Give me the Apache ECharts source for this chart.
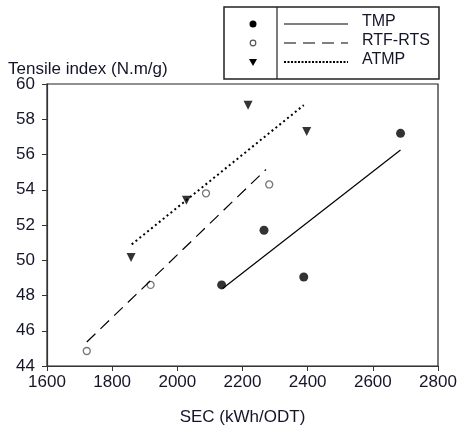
<!DOCTYPE html>
<html>
<head>
<meta charset="UTF-8">
<title>Tensile index vs SEC</title>
<script src="https://cdn.jsdelivr.net/npm/echarts@6/dist/echarts.min.js"></script>
<style>
  html, body { margin: 0; padding: 0; background: #fff; }
  #chart { width: 463px; height: 436px; }
</style>
</head>
<body>
<div id="chart"></div>
<script>
// measured points
const tmpPoints = [[2136, 48.6], [2266, 51.7], [2388, 49.05], [2685, 57.2]];
const rtfPoints = [[1722, 44.85], [1918, 48.6], [2088, 53.8], [2282, 54.3]];
const atmpPoints = [[1858, 50.15], [2028, 53.4], [2217, 58.8], [2397, 57.3]];

// fitted lines (end points)
const tmpLine = [[2139, 48.4], [2685, 56.25]];
const rtfLine = [[1722, 45.36], [2272, 55.15]];
const atmpLine = [[1860, 50.9], [2388, 58.8]];

const legendNames = ['TMP', 'RTF-RTS', 'ATMP'];
const ink = '#15152a';
const font = 'Liberation Sans, Arial, sans-serif';

const chart = echarts.init(document.getElementById('chart'));

chart.setOption({
    animation: false,
    grid: { left: 47, right: 25, top: 84, bottom: 70, show: true, borderColor: '#222', borderWidth: 1.2 },
    xAxis: {
        type: 'value', min: 1600, max: 2800, interval: 200,
        name: 'SEC (kWh/ODT)', nameLocation: 'middle', nameGap: 43,
        nameTextStyle: { color: ink, fontSize: 17, fontFamily: font },
        axisLine: { lineStyle: { color: '#333', width: 1.2 } },
        axisTick: { length: 5, lineStyle: { color: '#333' } },
        axisLabel: { color: ink, fontSize: 17, fontFamily: font, margin: 8, formatter: v => String(v) },
        splitLine: { show: false }
    },
    yAxis: {
        type: 'value', min: 44, max: 60, interval: 2,
        axisLine: { lineStyle: { color: '#333', width: 1.2 } },
        axisTick: { length: 5, lineStyle: { color: '#333' } },
        axisLabel: { color: ink, fontSize: 17, fontFamily: font, margin: 12 },
        splitLine: { show: false }
    },
    series: [
        { type: 'line', data: tmpLine, symbol: 'none', lineStyle: { color: '#000', width: 1.2 } },
        { type: 'line', data: rtfLine, symbol: 'none', lineStyle: { color: '#000', width: 1.2, type: [12, 7] } },
        { type: 'line', data: atmpLine, symbol: 'none', lineStyle: { color: '#000', width: 2, type: [2, 3] } },
        { name: legendNames[0], type: 'scatter', data: tmpPoints, symbol: 'circle', symbolSize: 9,
          itemStyle: { color: '#000' } },
        { name: legendNames[1], type: 'scatter', data: rtfPoints, symbol: 'circle', symbolSize: 7,
          itemStyle: { color: '#fff', borderColor: '#555', borderWidth: 1.3 } },
        { name: legendNames[2], type: 'scatter', data: atmpPoints, symbol: 'triangle', symbolRotate: 180, symbolSize: 9,
          itemStyle: { color: '#000' } }
    ],
    graphic: [
        { type: 'text', left: 8, top: 61, style: { text: 'Tensile index (N.m/g)', fill: ink, font: '17px ' + font } },
        // legend box
        { type: 'rect', shape: { x: 224, y: 7, width: 215, height: 72 }, style: { fill: '#fff', stroke: '#222', lineWidth: 1.5 } },
        { type: 'line', shape: { x1: 277, y1: 7, x2: 277, y2: 79 }, style: { stroke: '#222', lineWidth: 1.2 } },
        { type: 'circle', shape: { cx: 253, cy: 24, r: 3.5 }, style: { fill: '#000' } },
        { type: 'circle', shape: { cx: 253, cy: 43, r: 2.8 }, style: { fill: '#fff', stroke: '#555', lineWidth: 1.2 } },
        { type: 'polygon', shape: { points: [[249, 59], [257, 59], [253, 66]] }, style: { fill: '#000' } },
        { type: 'line', shape: { x1: 284, y1: 24, x2: 348, y2: 24 }, style: { stroke: '#000', lineWidth: 1.2 } },
        { type: 'line', shape: { x1: 284, y1: 43, x2: 348, y2: 43 }, style: { stroke: '#000', lineWidth: 1.2, lineDash: [12, 7] } },
        { type: 'line', shape: { x1: 284, y1: 62, x2: 348, y2: 62 }, style: { stroke: '#000', lineWidth: 2.2, lineDash: [2, 1.5] } },
        { type: 'text', left: 362, top: 14, style: { text: legendNames[0], fill: ink, font: '16px ' + font } },
        { type: 'text', left: 362, top: 33, style: { text: legendNames[1], fill: ink, font: '16px ' + font } },
        { type: 'text', left: 362, top: 52, style: { text: legendNames[2], fill: ink, font: '16px ' + font } }
    ]
});
</script>
</body>
</html>
